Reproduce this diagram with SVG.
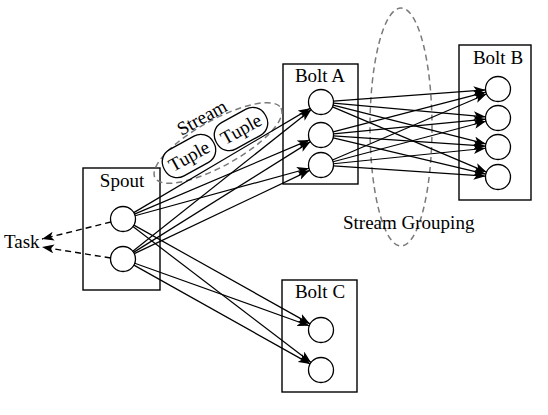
<svg xmlns="http://www.w3.org/2000/svg" width="548" height="415" viewBox="0 0 548 415">
<style>
text{font-family:"Liberation Serif","Times New Roman",serif;font-size:19px;fill:#000}
.box{fill:#fff;stroke:#000;stroke-width:1.4}
.c{fill:#fff;stroke:#000;stroke-width:1.3}
.e{stroke:#000;stroke-width:1.2;fill:none;marker-end:url(#ah)}
.t{stroke:#000;stroke-width:1.4;fill:none;stroke-dasharray:6,4;marker-end:url(#ah)}
.g{fill:none;stroke:#7a7a7a;stroke-width:1.5;stroke-dasharray:6,4}
.tp{fill:#fff;stroke:#000;stroke-width:1.3}
</style>
<defs>
<marker id="ah" markerWidth="13" markerHeight="9" refX="12" refY="4.5" orient="auto" markerUnits="userSpaceOnUse">
<path d="M0,0 L12,4.5 L0,9 L3,4.5 z" fill="#000"/>
</marker>
</defs>
<rect width="548" height="415" fill="#fff"/>
<g id="spout">
<rect class="box" x="83" y="168" width="77" height="122"/>
<text x="122" y="187" text-anchor="middle">Spout</text>
<circle class="c" cx="123" cy="219" r="12.5"/>
<circle class="c" cx="123" cy="259" r="12.5"/>
</g>
<g id="boltA">
<rect class="box" x="283" y="64" width="75" height="120"/>
<text x="320" y="82" text-anchor="middle">Bolt A</text>
<circle class="c" cx="321" cy="102" r="12.5"/>
<circle class="c" cx="321" cy="135" r="12.5"/>
<circle class="c" cx="321" cy="165" r="12.5"/>
</g>
<g id="boltB">
<rect class="box" x="459" y="45" width="72" height="155"/>
<text x="498" y="64" text-anchor="middle">Bolt B</text>
<circle class="c" cx="498" cy="89" r="12.5"/>
<circle class="c" cx="498" cy="118" r="12.5"/>
<circle class="c" cx="498" cy="147" r="12.5"/>
<circle class="c" cx="498" cy="177" r="12.5"/>
</g>
<g id="boltC">
<rect class="box" x="282" y="280" width="75" height="112"/>
<text x="320" y="298" text-anchor="middle">Bolt C</text>
<circle class="c" cx="321" cy="330" r="12.5"/>
<circle class="c" cx="321" cy="370" r="12.5"/>
</g>
<g id="task">
<text x="4" y="248">Task</text>
</g>
<g id="stream">
<ellipse class="g" cx="218" cy="143" rx="72" ry="23" transform="rotate(-29 218 143)"/>
<text x="205" y="123" text-anchor="middle" transform="rotate(-29 205 123)">Stream</text>
<g transform="translate(189 156) rotate(-29)">
<rect class="tp" x="-28" y="-15" width="56" height="30" rx="14"/>
<text x="0" y="6.5" text-anchor="middle">Tuple</text>
</g>
<g transform="translate(241 129) rotate(-29)">
<rect class="tp" x="-28" y="-15" width="56" height="30" rx="14"/>
<text x="0" y="6.5" text-anchor="middle">Tuple</text>
</g>
</g>
<g id="grouping">
<ellipse class="g" cx="401" cy="127" rx="31" ry="119"/>
<text x="343" y="229">Stream Grouping</text>
</g>
<g id="connectors">
<line class="t" x1="110.9" y1="222" x2="42" y2="239"/>
<line class="t" x1="110.6" y1="258" x2="42" y2="247"/>
<line class="e" x1="133.76" y1="212.64" x2="310.24" y2="108.36"/>
<line class="e" x1="134.51" y1="214.12" x2="309.49" y2="139.88"/>
<line class="e" x1="135.06" y1="215.71" x2="308.94" y2="168.29"/>
<line class="e" x1="133.90" y1="225.11" x2="310.10" y2="323.89"/>
<line class="e" x1="132.94" y1="226.58" x2="311.06" y2="362.42"/>
<line class="e" x1="132.79" y1="251.23" x2="311.21" y2="109.77"/>
<line class="e" x1="133.59" y1="252.37" x2="310.41" y2="141.63"/>
<line class="e" x1="134.29" y1="253.64" x2="309.71" y2="170.36"/>
<line class="e" x1="134.77" y1="263.22" x2="309.23" y2="325.78"/>
<line class="e" x1="133.90" y1="265.11" x2="310.10" y2="363.89"/>
<line class="e" x1="333.47" y1="101.08" x2="485.53" y2="89.92"/>
<line class="e" x1="333.45" y1="103.13" x2="485.55" y2="116.87"/>
<line class="e" x1="333.11" y1="105.08" x2="485.89" y2="143.92"/>
<line class="e" x1="332.51" y1="106.88" x2="486.49" y2="172.12"/>
<line class="e" x1="333.10" y1="131.86" x2="485.90" y2="92.14"/>
<line class="e" x1="333.44" y1="133.80" x2="485.56" y2="119.20"/>
<line class="e" x1="333.47" y1="135.85" x2="485.53" y2="146.15"/>
<line class="e" x1="333.16" y1="137.89" x2="485.84" y2="174.11"/>
<line class="e" x1="332.49" y1="160.07" x2="486.51" y2="93.93"/>
<line class="e" x1="333.08" y1="161.79" x2="485.92" y2="121.21"/>
<line class="e" x1="333.44" y1="163.74" x2="485.56" y2="148.26"/>
<line class="e" x1="333.47" y1="165.85" x2="485.53" y2="176.15"/>
</g>
</svg>
